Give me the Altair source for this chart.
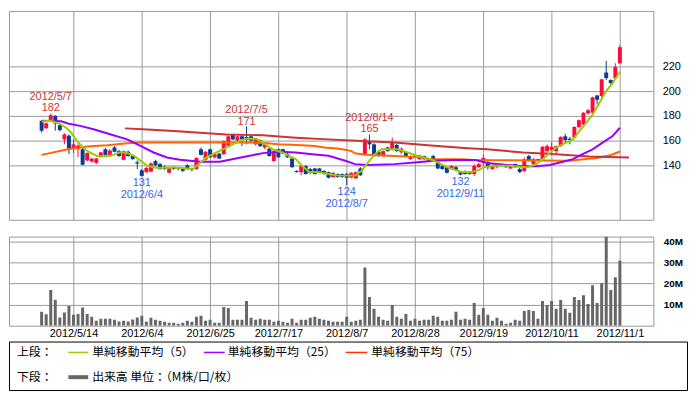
import altair as alt
import pandas as pd

# ---------------- data ----------------
# trading-day index 0 = 2012/5/1 ... 127 = 2012/11/1
opens = [176, 170, 176.5, 180, 172.5, 161, 164, 154, 153, 153,
         144, 143, 142, 147.5, 153, 148.5, 154.5, 151.5, 144.5, 151,
         147.5, 142.5, 136, 134.5, 135, 143.5, 141, 139, 134, 138.5,
         137.5, 137, 140, 137.5, 137, 153, 144.5, 153, 146.5, 149.5,
         149, 156, 165, 160, 163.5, 163, 163.5, 157, 160.5, 154.5,
         153.5, 143.5, 153, 153, 149, 145.5, 135.5, 134.5, 139.5, 137,
         137.5, 137.5, 135.5, 134.5, 130.5, 133, 133, 133, 130, 129.5,
         137.5, 149, 159, 157, 151, 147.5, 154.5, 153, 156.5, 150.5,
         151, 145, 148, 145, 147.5, 145, 147.5, 142.5, 139.5, 138.5,
         137, 138.5, 134.5, 135, 134.5, 133, 138.5, 142.5, 142.5, 137,
         138.5, 141, 139.5, 137.5, 141, 137, 135.5, 147.5, 141, 145,
         145, 151.5, 152.5, 151.5, 155.5, 163.5, 161.5, 162.5, 171, 173,
         182, 182.5, 196.5, 196, 215, 209, 210.5, 222.5]
highs = [176.5, 174.5, 182, 180.5, 173.5, 166, 165, 161, 157, 154,
         150.5, 146, 146, 151, 154, 153, 155.5, 152.5, 152, 152,
         148, 144, 137, 138.5, 142.5, 144.5, 142, 140, 138, 139.5,
         138, 137.5, 141, 138, 146.5, 154.5, 151.5, 153.5, 149.5, 150,
         160, 164, 165.5, 164, 164.5, 171.5, 164, 162, 161, 158,
         154, 152, 153.5, 153.5, 150, 146, 136, 141, 140, 138,
         138, 138, 136, 135, 134.5, 133.5, 133.5, 134, 134.5, 135,
         138.5, 162, 165, 158, 152.5, 152, 155, 162.5, 157.5, 154.5,
         151.5, 148, 148.5, 148.5, 148, 146, 148.5, 143, 140.5, 139,
         140, 139.5, 135, 136, 135.5, 141, 142, 148.5, 145, 140.5,
         141.5, 141.5, 140, 140, 141.5, 138, 146.5, 148.5, 146, 145.5,
         155.5, 157, 158.5, 156, 163.5, 165.5, 163, 171.5, 177, 183,
         185.5, 195.5, 197, 210, 224.5, 209.5, 222.5, 237]
lows = [166.5, 169.5, 176, 168, 167.5, 157, 149, 150, 146.5, 140,
        143, 142.5, 141, 146.5, 147.5, 148, 150.5, 147, 144, 147,
        144.5, 137, 131, 134, 134.5, 139.5, 136.5, 136.5, 133.5, 136.5,
        136, 134.5, 136.5, 135, 136.5, 148, 144, 146, 145.5, 145,
        148.5, 155, 160.5, 159.5, 155.5, 157, 159, 156, 155, 153,
        147, 143, 146, 149, 146, 138, 134.3, 132, 132.5, 133,
        132.5, 134, 132.5, 129.5, 130, 130, 130, 124, 129.5, 129,
        131.5, 147.5, 153, 147, 147, 147, 151, 152, 151, 149,
        146.5, 144.5, 146, 144.5, 144.5, 143.5, 144, 137, 136.5, 133.5,
        136.5, 136, 132, 132.5, 132.5, 131.5, 138, 140, 136.5, 136.5,
        137.5, 139, 138, 137, 138, 134, 134.5, 143, 140, 143.5,
        144.5, 150, 150, 149.5, 155, 158.5, 157, 162, 170, 172,
        181, 182, 189, 195, 209, 204.5, 209.5, 222]
closes = [168, 174, 180.5, 174, 168.5, 165, 153.5, 157, 156, 140.5,
          150, 145.5, 145.5, 150.5, 148.5, 152, 151, 147.5, 151.5, 147.5,
          145, 141.5, 131.5, 138, 141.5, 140, 137, 137, 137.5, 137,
          137, 135.5, 137, 136.5, 146, 148.5, 151, 146.5, 149, 145.5,
          159.5, 163.5, 161, 163.5, 161, 160.5, 160, 161.5, 155.5, 157,
          147.5, 151.5, 146.5, 149.5, 146.5, 138.5, 134.5, 139.5, 133, 134,
          133, 134.5, 133, 130, 134, 130.5, 130.5, 130, 134, 134.5,
          132, 161, 157, 147.5, 147.5, 151.5, 151.5, 158.5, 151.5, 153.5,
          147, 147.5, 146.5, 148, 145, 144, 145, 137.5, 137, 134,
          139.5, 136.5, 132.5, 133, 133, 139.5, 141, 146, 138.5, 139.5,
          141, 139.5, 138.5, 139.5, 138.5, 134.5, 145, 143.5, 145, 144,
          155, 155.5, 155, 155.5, 163, 160.5, 160.5, 171, 176.5, 182.5,
          184.5, 195, 193, 209.5, 210.5, 206.5, 219.5, 235.5]
volumes = [6.6, 5.5, 17, 12.3, 3.9, 6.3, 9.4, 5.2, 5.6, 8.6,
           5.6, 4.2, 2.3, 3.3, 3.3, 3.3, 2.8, 2.0, 2.3, 2.0,
           3.0, 3.9, 4.7, 1.9, 3.75, 2.8, 2.3, 1.9, 1.4, 1.4,
           0.9, 1.4, 2.3, 1.9, 4.2, 4.7, 2.3, 2.8, 1.4, 1.4,
           8.9, 8.4, 2.8, 2.8, 2.8, 11.7, 3.75, 2.8, 3.3, 2.8,
           2.8, 1.9, 2.3, 1.9, 1.4, 3.3, 1.4, 2.8, 2.8, 3.75,
           4.2, 3.3, 2.8, 2.3, 1.9, 1.9, 1.9, 4.2, 1.9, 2.3,
           2.8, 27.7, 13.6, 8, 4.2, 2.8, 2.3, 9.8, 4.2, 3.3,
           5.6, 2.3, 3.3, 2.3, 2.8, 2.8, 4.7, 4.2, 2.3, 2.3,
           2.8, 6.6, 2.8, 3.3, 2.8, 10.8, 5.2, 8.4, 5.2, 2.3,
           3.75, 2.3, 0.9, 1.4, 2.8, 2.3, 7, 7.5, 7, 3.3,
           11.7, 9.8, 11.7, 8, 12.2, 8, 6.1, 13.6, 12.2, 14.5,
           10.3, 19.2, 10.8, 20.2, 45, 16.9, 23, 30.9]

# moving averages (day index, value)
ma5_x = [0, 2, 4, 5.4, 6.5, 8, 10, 12.3, 15.2, 17.4, 18.8, 20.3, 23.2, 25.4, 29, 33.3, 36.2, 39.1,
         41.3, 43.5, 44.9, 47.1, 48.6, 50.7, 52.9, 54.3, 55.8, 57.2, 58.7, 60.9, 63, 65.2, 68.8,
         70.3, 71.7, 73.2, 74.6, 78.3, 80.4, 82.6, 84.8, 87, 89.1, 92, 94.2, 95.7, 97.1, 99.3,
         102.2, 104.3, 106.5, 108.7, 110.9, 113, 115.2, 116.7, 118.1, 119.6, 121, 122.5, 123.9,
         125.4, 127]
ma5_v = [175.5, 176, 173.5, 170.4, 166.4, 158.4, 151.7, 147.2, 147.7, 150.7, 150, 147.7, 139.7,
         137.9, 138.4, 137.1, 146.4, 151.7, 155.5, 159.7, 161.6, 161.6, 158.4, 153, 150.4, 147.7,
         145, 139.7, 134.9, 134.4, 133, 131.7, 131.7, 135.7, 142.4, 149, 153, 153, 150.4, 147.7,
         145.6, 142.4, 138.4, 134.9, 134.4, 135.7, 138.4, 139.7, 139.7, 139, 138.4, 141, 147.7,
         154.4, 158.4, 161, 167.7, 174.4, 181, 190.4, 199.7, 206.4, 215.7]
ma25_x = [0, 4.3, 5.8, 8.7, 11.6, 15.2, 18.8, 21.7, 24.6, 27.5, 30.4, 34.8, 39.1, 41.3, 44.9,
          48.6, 52.2, 55.8, 59.4, 63, 66.7, 68.8, 71.7, 77.5, 81.9, 86.2, 91, 95.3, 97.8, 102.2,
          105.8, 108.7, 111.6, 114.5, 116.7, 118.8, 121, 123.2, 125.4, 127]
ma25_v = [176, 175.7, 173.9, 171.7, 169, 165, 161, 155.7, 150.4, 146.4, 144.5, 142.9, 142.9,
          144.5, 147.2, 149.9, 151, 150.4, 149, 147.7, 143.7, 141, 140.3, 141, 142.4, 143.7,
          144.3, 144.3, 141.9, 140.3, 139.2, 139.2, 140.3, 142.9, 145, 149, 153, 158.4, 163.7,
          170.4]
ma75_x = [18.3, 23.2, 29, 34.8, 40.6, 48.6, 55.8, 63, 70.3, 77.5, 84.8, 93.5, 97.8, 105.8,
          113, 120.3, 129]
ma75_v = [169.9, 169, 167.7, 166.4, 165, 164.3, 162.4, 161, 159.7, 158.4, 156.3, 153.9, 153,
          150.4, 149, 147.2, 146.4]
ora_x = [0, 5.8, 10, 14.4, 18.8, 21.7, 45, 49, 52, 56, 60, 62, 65, 67.9, 69, 71.5, 75, 80, 83,
         85, 92, 95, 110, 116, 119, 122, 124, 125.5, 127]
ora_v = [148.5, 153, 155.2, 156.3, 157.9, 158.4, 158.4, 158, 157, 156.5, 155.7, 154.5, 153.6,
         151.7, 149.5, 148.5, 148, 147.2, 147, 145, 145, 144.3, 143.9, 143.7, 145, 146, 147.5,
         149, 151.2]

tick_idx = [7, 22, 37, 52, 67, 82, 97, 112, 127]
tick_labels = ['2012/5/14', '2012/6/4', '2012/6/25', '2012/7/17', '2012/8/7',
               '2012/8/28', '2012/9/19', '2012/10/11', '2012/11/1']

hi_idx = [2, 45, 72]
hi_price = [182, 171, 165]
hi_date = ['2012/5/7', '2012/7/5', '2012/8/14']
lo_idx = [22, 67, 92]
lo_price = [131, 124, 132]
lo_date = ['2012/6/4', '2012/8/7', '2012/9/11']

legend_labels = ['単純移動平均（5）', '単純移動平均（25）', '単純移動平均（75）']
legend_colors = ['#99cc00', '#9900ff', '#ff3300']

# ---------------- frames ----------------
n = len(opens)
candles = pd.DataFrame({'i': list(range(n)), 'o': opens, 'h': highs, 'l': lows, 'c': closes,
                        'v': volumes})
candles['dir'] = ['up' if c >= o else 'down' for o, c in zip(opens, closes)]

ma5 = pd.DataFrame({'i': ma5_x, 'v': ma5_v})
ma25 = pd.DataFrame({'i': ma25_x, 'v': ma25_v})
ma75 = pd.DataFrame({'i': ma75_x, 'v': ma75_v})
ora = pd.DataFrame({'i': ora_x, 'v': ora_v})
hi = pd.DataFrame({'i': hi_idx, 'p': hi_price, 'd': hi_date,
                   't': [str(p) for p in hi_price]})
lo = pd.DataFrame({'i': lo_idx, 'p': lo_price, 'd': lo_date,
                   't': [str(p) for p in lo_price]})

label_expr = " : ".join(f"datum.value == {i} ? '{l}'" for i, l in zip(tick_idx, tick_labels)) + " : ''"

xscale = alt.Scale(domain=[-7.17, 134.35], nice=False, zero=False, padding=0)
yscale = alt.Scale(domain=[96, 264.8], nice=False, zero=False)
col = alt.Color('dir:N', scale=alt.Scale(domain=['up', 'down'], range=['#ff0a3c', '#0a3c96']),
                legend=None)

x_top = alt.X('i:Q', scale=xscale, title=None,
              axis=alt.Axis(values=tick_idx, labels=False, ticks=False, domain=False,
                            grid=True))
y_top = alt.Y('l:Q', scale=yscale, title=None,
              axis=alt.Axis(orient='right', values=[140, 160, 180, 200, 220], ticks=False,
                            domain=False, grid=True, labelPadding=9))

base = alt.Chart(candles)
wicks = base.mark_rule(strokeWidth=1).encode(x=x_top, y=y_top, y2='h:Q', color=col)
bodies = base.mark_bar(size=4).encode(x='i:Q', y='o:Q', y2='c:Q', color=col)

def line(df, color, w=2):
    return alt.Chart(df).mark_line(color=color, strokeWidth=w).encode(
        x=alt.X('i:Q', scale=xscale), y=alt.Y('v:Q', scale=yscale))

afont = 'Liberation Sans'
hi_num = alt.Chart(hi).mark_text(color='#cc3333', fontSize=11, dy=-5, font=afont).encode(
    x='i:Q', y='p:Q', text='t:N')
hi_dt = alt.Chart(hi).mark_text(color='#cc3333', fontSize=11, dy=-17, font=afont).encode(
    x='i:Q', y='p:Q', text='d:N')
lo_num = alt.Chart(lo).mark_text(color='#3366ee', fontSize=11, dy=7, font=afont).encode(
    x='i:Q', y='p:Q', text='t:N')
lo_dt = alt.Chart(lo).mark_text(color='#3366ee', fontSize=11, dy=19, font=afont).encode(
    x='i:Q', y='p:Q', text='d:N')

top = alt.layer(wicks, bodies, line(ora, '#ff6600', 2), line(ma75, '#cc3333', 2),
                line(ma25, '#9900ff', 2), line(ma5, '#99cc00', 2),
                hi_num, hi_dt, lo_num, lo_dt).properties(width=651, height=211)

vol = alt.Chart(candles).mark_bar(size=3, color='#666666', clip=True).encode(
    x=alt.X('i:Q', scale=xscale, title=None,
            axis=alt.Axis(values=tick_idx, labelExpr=label_expr, ticks=False, domain=False,
                          grid=True, labelPadding=2, labelFontSize=11)),
    y=alt.Y('v:Q', scale=alt.Scale(domain=[0, 42.3], nice=False), title=None,
            axis=alt.Axis(orient='right', values=[10, 20, 30, 40], labelExpr="datum.value + 'M'",
                          ticks=False, domain=False, grid=True, labelPadding=10,
                          labelFontWeight='bold', labelFontSize=10))
).properties(width=651, height=90)

# legend box
one = pd.DataFrame({'k': [0]})
lb = alt.Chart(one)
tfont = 'Noto Sans CJK JP'
def txt(s, x, y):
    return lb.mark_text(align='left', baseline='middle', fontSize=12, font=tfont, color='black').encode(
        x=alt.value(x), y=alt.value(y), text=alt.value(s))
def seg(c, x1, x2, y, w=1.5):
    return lb.mark_rule(color=c, strokeWidth=w).encode(x=alt.value(x1), x2=alt.value(x2), y=alt.value(y))

legend = alt.layer(
    txt('上段：', 8, 11),
    seg(legend_colors[0], 60, 80, 11), txt(legend_labels[0], 84, 11),
    seg(legend_colors[1], 197, 218, 11), txt(legend_labels[1], 221, 11),
    seg(legend_colors[2], 340, 362, 11), txt(legend_labels[2], 366, 11),
    txt('下段：', 8, 36),
    seg('#666666', 60, 80, 36, 4), txt('出来高 単位：（M株/口/枚）', 84, 36),
).properties(width=685, height=49, view=alt.ViewBackground(stroke='black', strokeWidth=1))

chart = alt.vconcat(alt.vconcat(top, vol, spacing=15), legend, spacing=1).properties(
    padding=0
).configure_view(stroke='#999999', strokeWidth=1).configure_axis(
    gridColor='#999999', gridWidth=1, labelColor='black', labelFont='Liberation Sans',
    labelFontSize=11)

chart.save("out.html", embed_options={"renderer": "svg", "actions": False})
